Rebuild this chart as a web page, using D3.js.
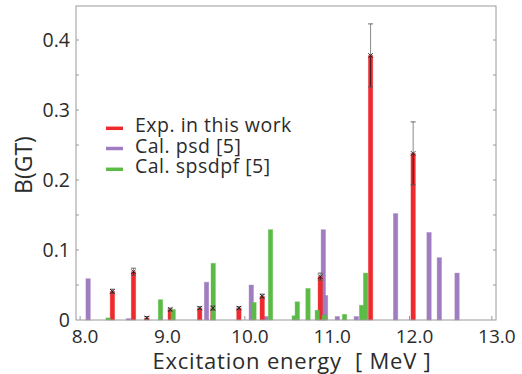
<!DOCTYPE html>
<html><head><meta charset="utf-8">
<script src="https://cdn.jsdelivr.net/npm/d3@7"></script>
<style>body{margin:0;background:#fff}svg{display:block}</style>
</head><body>
<script>
// ---- data ----
const expEnergy = [8.392, 8.648, 8.810, 9.094, 9.452, 9.612, 9.928, 10.211, 10.916, 11.527, 12.044];
const expBGT    = [0.041, 0.069, 0.003, 0.015, 0.017, 0.017, 0.017, 0.034, 0.062, 0.378, 0.238];
const expErr    = [0.003, 0.005, 0.002, 0.002, 0.002, 0.003, 0.002, 0.003, 0.005, 0.045, 0.045];

const psdEnergy = [8.097, 8.587, 9.535, 10.078, 10.256, 10.953, 10.980, 11.123, 11.354, 11.831, 12.237, 12.362, 12.577];
const psdBGT    = [0.059, 0.002, 0.054, 0.050, 0.005, 0.129, 0.035, 0.005, 0.005, 0.152, 0.125, 0.089, 0.067];

const spsdpfEnergy = [8.340, 8.976, 9.130, 9.616, 10.111, 10.312, 10.600, 10.637, 10.767, 10.880, 10.965, 11.211, 11.418, 11.467];
const spsdpfBGT    = [0.003, 0.029, 0.015, 0.081, 0.025, 0.129, 0.006, 0.026, 0.045, 0.014, 0.007, 0.008, 0.021, 0.067];

const xTicks = [8, 9, 10, 11, 12, 13];
const xTickLabels = ["8.0", "9.0", "10.0", "11.0", "12.0", "13.0"];
const yTicks = [0, 0.1, 0.2, 0.3, 0.4];
const yTickLabels = ["0", "0.1", "0.2", "0.3", "0.4"];
const yMinor = [0.05, 0.1, 0.15, 0.2, 0.25, 0.3, 0.35, 0.4];
const legendLabels = ["Exp. in this work", "Cal. psd [5]", "Cal. spsdpf [5]"];

// ---- style ----
const W = 522, H = 374;
const colRed = "#ef2a2e", colPurple = "#a07dc0", colGreen = "#5cbb47";
const font = "'Open Sans', 'Noto Sans', sans-serif";
const txt = "#2b2b2b";
const barW = 4.4;

const x = d3.scaleLinear().domain([7.95, 13.05]).range([76, 496]);
const y = d3.scaleLinear().domain([0, 0.45]).range([320, 5]);

const svg = d3.select("body").append("svg").attr("width", W).attr("height", H);

function bars(E, V, color, cls) {
  svg.append("g").selectAll("rect").data(E.map((e, i) => ({e, v: V[i]}))).join("rect")
    .attr("class", cls)
    .attr("x", d => x(d.e) - barW / 2).attr("width", barW)
    .attr("y", d => y(d.v)).attr("height", d => y(0) - y(d.v))
    .attr("fill", color).attr("stroke", color).attr("stroke-opacity", 0.45).attr("stroke-width", 0.8);
}
bars(psdEnergy, psdBGT, colPurple, "psd");
bars(expEnergy, expBGT, colRed, "exp");
bars(spsdpfEnergy, spsdpfBGT, colGreen, "spsdpf");

// error bars and markers
const eg = svg.append("g");
expEnergy.forEach((e, i) => {
  const cx = x(e), v = expBGT[i], er = expErr[i];
  eg.append("line").attr("x1", cx).attr("x2", cx).attr("y1", y(v + er)).attr("y2", y(v))
    .attr("stroke", "#8a8a8a").attr("stroke-width", 1);
  eg.append("line").attr("x1", cx).attr("x2", cx).attr("y1", y(v)).attr("y2", y(Math.max(0, v - er)))
    .attr("stroke", "#4a1a1a").attr("stroke-width", 1);
  [v + er, Math.max(0, v - er)].forEach(t => {
    eg.append("line").attr("x1", cx - 2.5).attr("x2", cx + 2.5).attr("y1", y(t)).attr("y2", y(t))
      .attr("stroke", "#555").attr("stroke-width", 0.9);
  });
  const cy = y(v), s = 2.2;
  eg.append("path").attr("d", `M${cx - s},${cy - s}L${cx + s},${cy + s}M${cx - s},${cy + s}L${cx + s},${cy - s}`)
    .attr("stroke", "#222").attr("stroke-width", 1);
});

// frame
const x0 = x.range()[0], x1 = x.range()[1], y0 = y(0), y1 = y.range()[1] + 1;
svg.append("rect").attr("x", x0).attr("y", y1).attr("width", x1 - x0).attr("height", y0 - y1)
  .attr("fill", "none").attr("stroke", "#9a9a9a").attr("stroke-width", 1);

// y ticks (inward, both sides)
yMinor.forEach(t => {
  svg.append("line").attr("x1", x0).attr("x2", x0 + 3).attr("y1", y(t)).attr("y2", y(t)).attr("stroke", "#9a9a9a");
  svg.append("line").attr("x1", x1).attr("x2", x1 - 3).attr("y1", y(t)).attr("y2", y(t)).attr("stroke", "#9a9a9a");
});
// x ticks (inward)
xTicks.forEach(t => {
  svg.append("line").attr("x1", x(t)).attr("x2", x(t)).attr("y1", y0).attr("y2", y0 - 4).attr("stroke", "#9a9a9a");
});

// tick labels
svg.append("g").selectAll("text").data(yTicks).join("text")
  .attr("x", 70).attr("y", d => y(d)).attr("dy", "0.36em").attr("text-anchor", "end")
  .attr("font-family", font).attr("font-size", 19.5).attr("fill", txt)
  .text((d, i) => yTickLabels[i]);
svg.append("g").selectAll("text").data(xTicks).join("text")
  .attr("x", d => x(d) + 5).attr("y", 342.5).attr("text-anchor", "middle")
  .attr("font-family", font).attr("font-size", 19).attr("fill", txt)
  .text((d, i) => xTickLabels[i]);

// axis titles
svg.append("text").attr("x", 292).attr("y", 368.5).attr("text-anchor", "middle")
  .attr("font-family", font).attr("font-size", 22).attr("letter-spacing", 0.8).attr("fill", txt)
  .attr("xml:space", "preserve").text("Excitation energy  [ MeV ]");
svg.append("text").attr("transform", "translate(32,165) rotate(-90)").attr("text-anchor", "middle")
  .attr("font-family", font).attr("font-size", 23).attr("fill", txt).text("B(GT)");

// legend
const legCols = [colRed, colPurple, colGreen];
const legY = [128.3, 148.5, 169.3];
const legBase = [131.7, 152.5, 173.3];
legendLabels.forEach((l, i) => {
  svg.append("line").attr("x1", 106).attr("x2", 123).attr("y1", legY[i]).attr("y2", legY[i])
    .attr("stroke", legCols[i]).attr("stroke-width", 3.5);
  svg.append("text").attr("x", 135).attr("y", legBase[i])
    .attr("font-family", font).attr("font-size", 19.5).attr("letter-spacing", 0.5).attr("fill", txt).text(l);
});
</script>
</body></html>
